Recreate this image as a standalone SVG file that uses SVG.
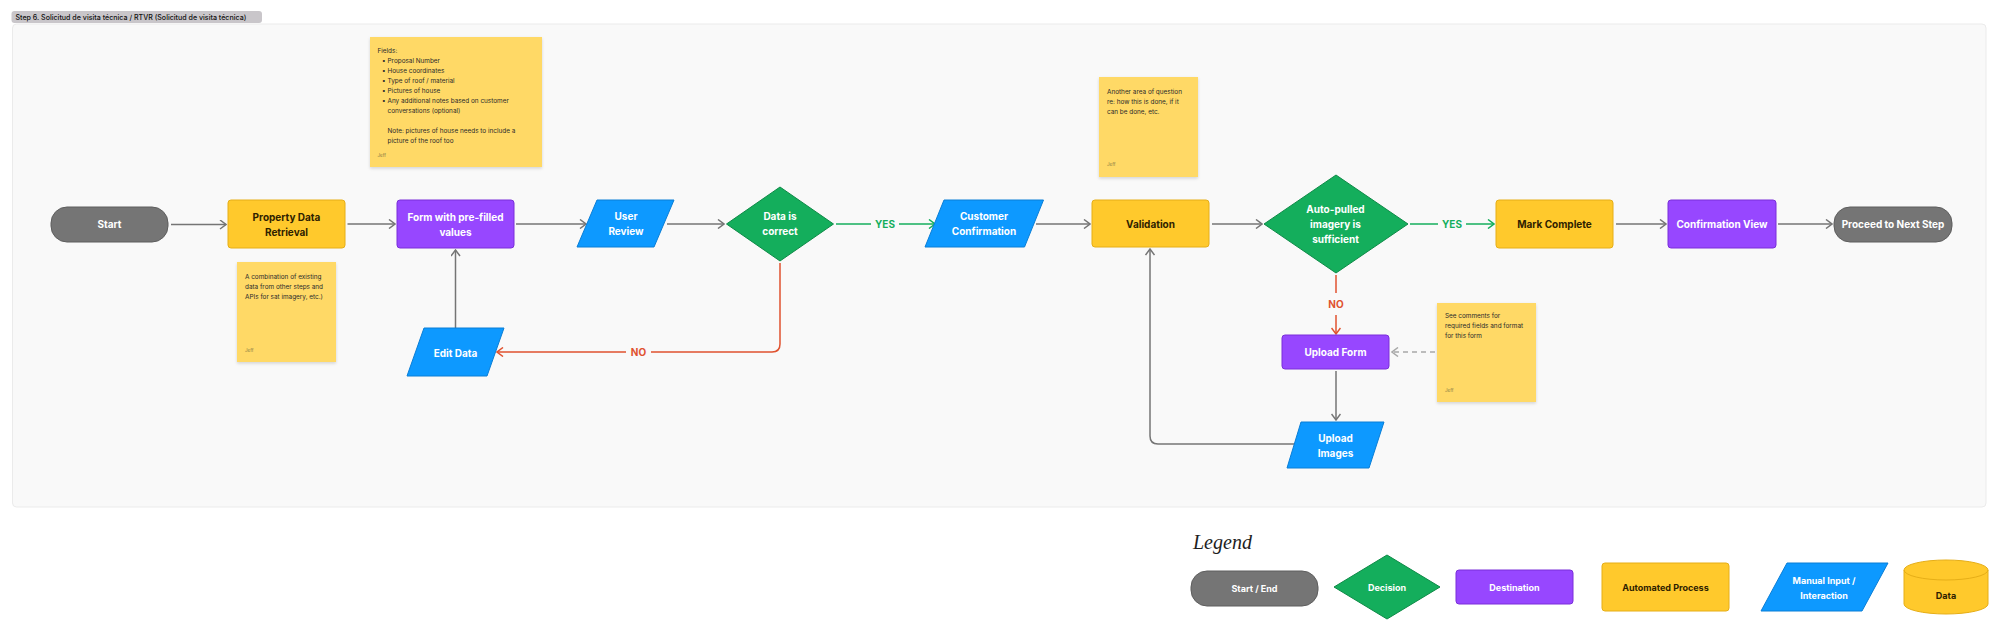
<svg xmlns="http://www.w3.org/2000/svg" width="2000" height="631" viewBox="0 0 2000 631">
<defs>
<style>
.lbl{font-family:Inter,"Liberation Sans",sans-serif;font-weight:700;font-size:10px;text-anchor:middle}
.w{fill:#ffffff}
.dk{fill:#2e2100}
.lg{font-size:9px}
.note{fill:#FFD966}
.nt{font-family:Inter,"Liberation Sans",sans-serif;font-size:6.4px;fill:#2b2b2b}
.jeff{font-family:Inter,"Liberation Sans",sans-serif;font-size:4.5px;fill:#8a7a45}
.term{fill:#757575;stroke:#5e5e5e;stroke-width:1}
.auto{fill:#FFC92C;stroke:#E6AE17;stroke-width:1}
.dest{fill:#9747FF;stroke:#7A2FD9;stroke-width:1}
.man{fill:#0D99FF;stroke:#0A7ED6;stroke-width:1}
.dec{fill:#14AE5C;stroke:#0E8A47;stroke-width:1}
.c{fill:none;stroke-width:1.5}
.g{stroke:#757575}
.gr{stroke:#14AE5C}
.r{stroke:#E0522F}
.lt{stroke:#A8A8A8;stroke-dasharray:5 4}
.el{font-family:Inter,"Liberation Sans",sans-serif;font-weight:700;font-size:10px;text-anchor:middle}
</style>
<marker id="ag" viewBox="0 0 10 10" refX="9" refY="5" markerWidth="10" markerHeight="10" markerUnits="userSpaceOnUse" orient="auto"><path d="M3,0.5 L9,5 L3,9.5" fill="none" stroke="#757575" stroke-width="1.5"/></marker>
<marker id="agr" viewBox="0 0 10 10" refX="9" refY="5" markerWidth="10" markerHeight="10" markerUnits="userSpaceOnUse" orient="auto"><path d="M3,0.5 L9,5 L3,9.5" fill="none" stroke="#14AE5C" stroke-width="1.5"/></marker>
<marker id="ar" viewBox="0 0 10 10" refX="9" refY="5" markerWidth="10" markerHeight="10" markerUnits="userSpaceOnUse" orient="auto"><path d="M3,0.5 L9,5 L3,9.5" fill="none" stroke="#E0522F" stroke-width="1.5"/></marker>
<marker id="alt" viewBox="0 0 10 10" refX="9" refY="5" markerWidth="10" markerHeight="10" markerUnits="userSpaceOnUse" orient="auto"><path d="M3,0.5 L9,5 L3,9.5" fill="none" stroke="#A8A8A8" stroke-width="1.5"/></marker>
<filter id="sh" x="-10%" y="-10%" width="120%" height="125%"><feDropShadow dx="0" dy="1.5" stdDeviation="1.5" flood-color="#000" flood-opacity="0.15"/></filter>
</defs>
<rect width="2000" height="631" fill="#ffffff"/>
<g id="frame">
<rect x="12.5" y="24" width="1973.5" height="483" rx="4" fill="#F9F9F9" stroke="#EBEBEB" stroke-width="1"/>
<rect x="11.5" y="11" width="250.5" height="12" rx="3" fill="#C9C6CA"/>
<text x="15.5" y="20" font-family="Inter,'Liberation Sans',sans-serif" font-size="7.1" font-weight="500" fill="#111">Step 6. Solicitud de visita técnica / RTVR (Solicitud de visita técnica)</text>
</g>

<g id="connectors">
<path class="c g" d="M171,224.5 H226" marker-end="url(#ag)"/>
<path class="c g" d="M347.5,224 H395" marker-end="url(#ag)"/>
<path class="c g" d="M516,224 H586" marker-end="url(#ag)"/>
<path class="c g" d="M667,224 H724" marker-end="url(#ag)"/>
<path class="c gr" d="M836,224 H935" marker-end="url(#agr)"/>
<rect x="871" y="217" width="28" height="14" fill="#F9F9F9"/>
<text class="el" x="885" y="227.6" fill="#14AE5C">YES</text>
<path class="c g" d="M1036,224 H1090" marker-end="url(#ag)"/>
<path class="c g" d="M1212,224 H1262" marker-end="url(#ag)"/>
<path class="c gr" d="M1410,224 H1494" marker-end="url(#agr)"/>
<rect x="1438" y="217" width="28" height="14" fill="#F9F9F9"/>
<text class="el" x="1452" y="227.6" fill="#14AE5C">YES</text>
<path class="c g" d="M1616,224 H1666" marker-end="url(#ag)"/>
<path class="c g" d="M1778,224 H1832" marker-end="url(#ag)"/>
<path class="c r" d="M780,263 V344 Q780,352 772,352 H497" marker-end="url(#ar)"/>
<rect x="626" y="345" width="25" height="14" fill="#F9F9F9"/>
<text class="el" x="638.5" y="355.6" fill="#E0522F">NO</text>
<path class="c g" d="M455.5,328 V250" marker-end="url(#ag)"/>
<path class="c r" d="M1336,275 V334" marker-end="url(#ar)"/>
<rect x="1325" y="293" width="22" height="22" fill="#F9F9F9"/>
<text class="el" x="1336" y="307.6" fill="#E0522F">NO</text>
<path class="c g" d="M1336,371 V420" marker-end="url(#ag)"/>
<path class="c g" d="M1295,444 H1158 Q1150,444 1150,436 V249" marker-end="url(#ag)"/>
<path class="c lt" d="M1435,352 H1392" marker-end="url(#alt)"/>
</g>

<g id="note-fields">
<rect class="note" x="370" y="37" width="172" height="130" filter="url(#sh)"/>
<text class="nt" x="377.5" y="53">Fields:</text>
<text class="nt" x="382" y="63.3">•</text><text class="nt" x="387.5" y="63.3">Proposal Number</text>
<text class="nt" x="382" y="73.3">•</text><text class="nt" x="387.5" y="73.3">House coordinates</text>
<text class="nt" x="382" y="83">•</text><text class="nt" x="387.5" y="83">Type of roof / material</text>
<text class="nt" x="382" y="93">•</text><text class="nt" x="387.5" y="93">Pictures of house</text>
<text class="nt" x="382" y="103">•</text><text class="nt" x="387.5" y="103">Any additional notes based on customer</text>
<text class="nt" x="387.5" y="113">conversations (optional)</text>
<text class="nt" x="387.5" y="133">Note: pictures of house needs to include a</text>
<text class="nt" x="387.5" y="142.6">picture of the roof too</text>
<text class="jeff" x="377.5" y="157">Jeff</text>
</g>

<g id="note-data">
<rect class="note" x="237" y="262" width="99" height="100" filter="url(#sh)"/>
<text class="nt" x="245" y="278.5">A combination of existing</text>
<text class="nt" x="245" y="288.5">data from other steps and</text>
<text class="nt" x="245" y="298.5">APIs for sat imagery, etc.)</text>
<text class="jeff" x="245" y="352">Jeff</text>
</g>

<g id="note-validation">
<rect class="note" x="1099" y="77" width="99" height="100" filter="url(#sh)"/>
<text class="nt" x="1107" y="93.5">Another area of question</text>
<text class="nt" x="1107" y="103.5">re: how this is done, if it</text>
<text class="nt" x="1107" y="113.5">can be done, etc.</text>
<text class="jeff" x="1107" y="166">Jeff</text>
</g>

<g id="note-upload">
<rect class="note" x="1437" y="303" width="99" height="99" filter="url(#sh)"/>
<text class="nt" x="1445" y="318">See comments for</text>
<text class="nt" x="1445" y="328">required fields and format</text>
<text class="nt" x="1445" y="338">for this form</text>
<text class="jeff" x="1445" y="392">Jeff</text>
</g>

<g id="start">
<rect class="term" x="51" y="207" width="117" height="35" rx="16"/>
<text class="lbl w" x="109.5" y="228">Start</text>
</g>
<g id="property-data-retrieval">
<rect class="auto" x="228" y="200" width="117" height="48" rx="3"/>
<text class="lbl dk" x="286.5" y="220.6">Property Data</text>
<text class="lbl dk" x="286.5" y="235.6">Retrieval</text>
</g>
<g id="form-prefilled">
<rect class="dest" x="397" y="200" width="117" height="48" rx="3"/>
<text class="lbl w" x="455.5" y="220.6">Form with pre-filled</text>
<text class="lbl w" x="455.5" y="235.6">values</text>
</g>
<g id="user-review">
<path class="man" d="M597,200 H674 L654,247 H577 Z" stroke-linejoin="round"/>
<text class="lbl w" x="626" y="220.3">User</text>
<text class="lbl w" x="626" y="235.3">Review</text>
</g>
<g id="data-is-correct">
<path class="dec" d="M780,187 L833.5,224 L780,261 L726.5,224 Z" stroke-linejoin="round"/>
<text class="lbl w" x="780" y="220.3">Data is</text>
<text class="lbl w" x="780" y="235.3">correct</text>
</g>
<g id="customer-confirmation">
<path class="man" d="M944,200 H1043.5 L1024.5,247 H925 Z" stroke-linejoin="round"/>
<text class="lbl w" x="984" y="220.3">Customer</text>
<text class="lbl w" x="984" y="235.3">Confirmation</text>
</g>
<g id="edit-data">
<path class="man" d="M424,328 H504 L487,376 H407 Z" stroke-linejoin="round"/>
<text class="lbl w" x="455.5" y="356.6">Edit Data</text>
</g>
<g id="validation">
<rect class="auto" x="1092" y="200" width="117" height="47" rx="3"/>
<text class="lbl dk" x="1150.5" y="227.6">Validation</text>
</g>
<g id="imagery-sufficient">
<path class="dec" d="M1336,175 L1408,224 L1336,273 L1264,224 Z" stroke-linejoin="round"/>
<text class="lbl w" x="1335.5" y="212.6">Auto-pulled</text>
<text class="lbl w" x="1335.5" y="227.6">imagery is</text>
<text class="lbl w" x="1335.5" y="242.6">sufficient</text>
</g>
<g id="upload-form">
<rect class="dest" x="1282" y="335" width="107" height="34" rx="3"/>
<text class="lbl w" x="1335.5" y="355.6">Upload Form</text>
</g>
<g id="upload-images">
<path class="man" d="M1301,422 H1384 L1369,468 H1287 Z" stroke-linejoin="round"/>
<text class="lbl w" x="1335.5" y="441.6">Upload</text>
<text class="lbl w" x="1335.5" y="456.6">Images</text>
</g>
<g id="mark-complete">
<rect class="auto" x="1496" y="200" width="117" height="48" rx="3"/>
<text class="lbl dk" x="1554.5" y="227.6">Mark Complete</text>
</g>
<g id="confirmation-view">
<rect class="dest" x="1668" y="200" width="108" height="48" rx="3"/>
<text class="lbl w" x="1722" y="227.6">Confirmation View</text>
</g>
<g id="proceed">
<rect class="term" x="1834" y="207" width="118" height="35" rx="16"/>
<text class="lbl w" x="1893" y="227.6">Proceed to Next Step</text>
</g>

<g id="legend">
<text x="1193" y="549" font-family="'Liberation Serif',serif" font-style="italic" font-size="20" fill="#1e1e1e">Legend</text>
<g id="legend-start-end">
<rect class="term" x="1191" y="571" width="127" height="35" rx="16"/>
<text class="lbl lg w" x="1254.5" y="591.5">Start / End</text>
</g>
<g id="legend-decision">
<path class="dec" d="M1387,555 L1440,587 L1387,619 L1334,587 Z" stroke-linejoin="round"/>
<text class="lbl lg w" x="1387" y="591">Decision</text>
</g>
<g id="legend-destination">
<rect class="dest" x="1456" y="570" width="117" height="34" rx="3"/>
<text class="lbl lg w" x="1514.5" y="591">Destination</text>
</g>
<g id="legend-automated">
<rect class="auto" x="1602" y="563" width="127" height="48" rx="3"/>
<text class="lbl lg dk" x="1665.5" y="591">Automated Process</text>
</g>
<g id="legend-manual">
<path class="man" d="M1787,563 H1888 L1862,611 H1761 Z" stroke-linejoin="round"/>
<text class="lbl lg w" x="1824" y="584">Manual Input /</text>
<text class="lbl lg w" x="1824" y="598.5">Interaction</text>
</g>
<g id="legend-data">
<path class="auto" d="M1904,570 A42,10 0 0 1 1988,570 V604 A42,10 0 0 1 1904,604 Z"/>
<path d="M1904,570 A42,10 0 0 0 1988,570" fill="none" stroke="#E6AE17" stroke-width="1"/>
<text class="lbl lg dk" x="1946" y="599">Data</text>
</g>
</g>
</svg>
